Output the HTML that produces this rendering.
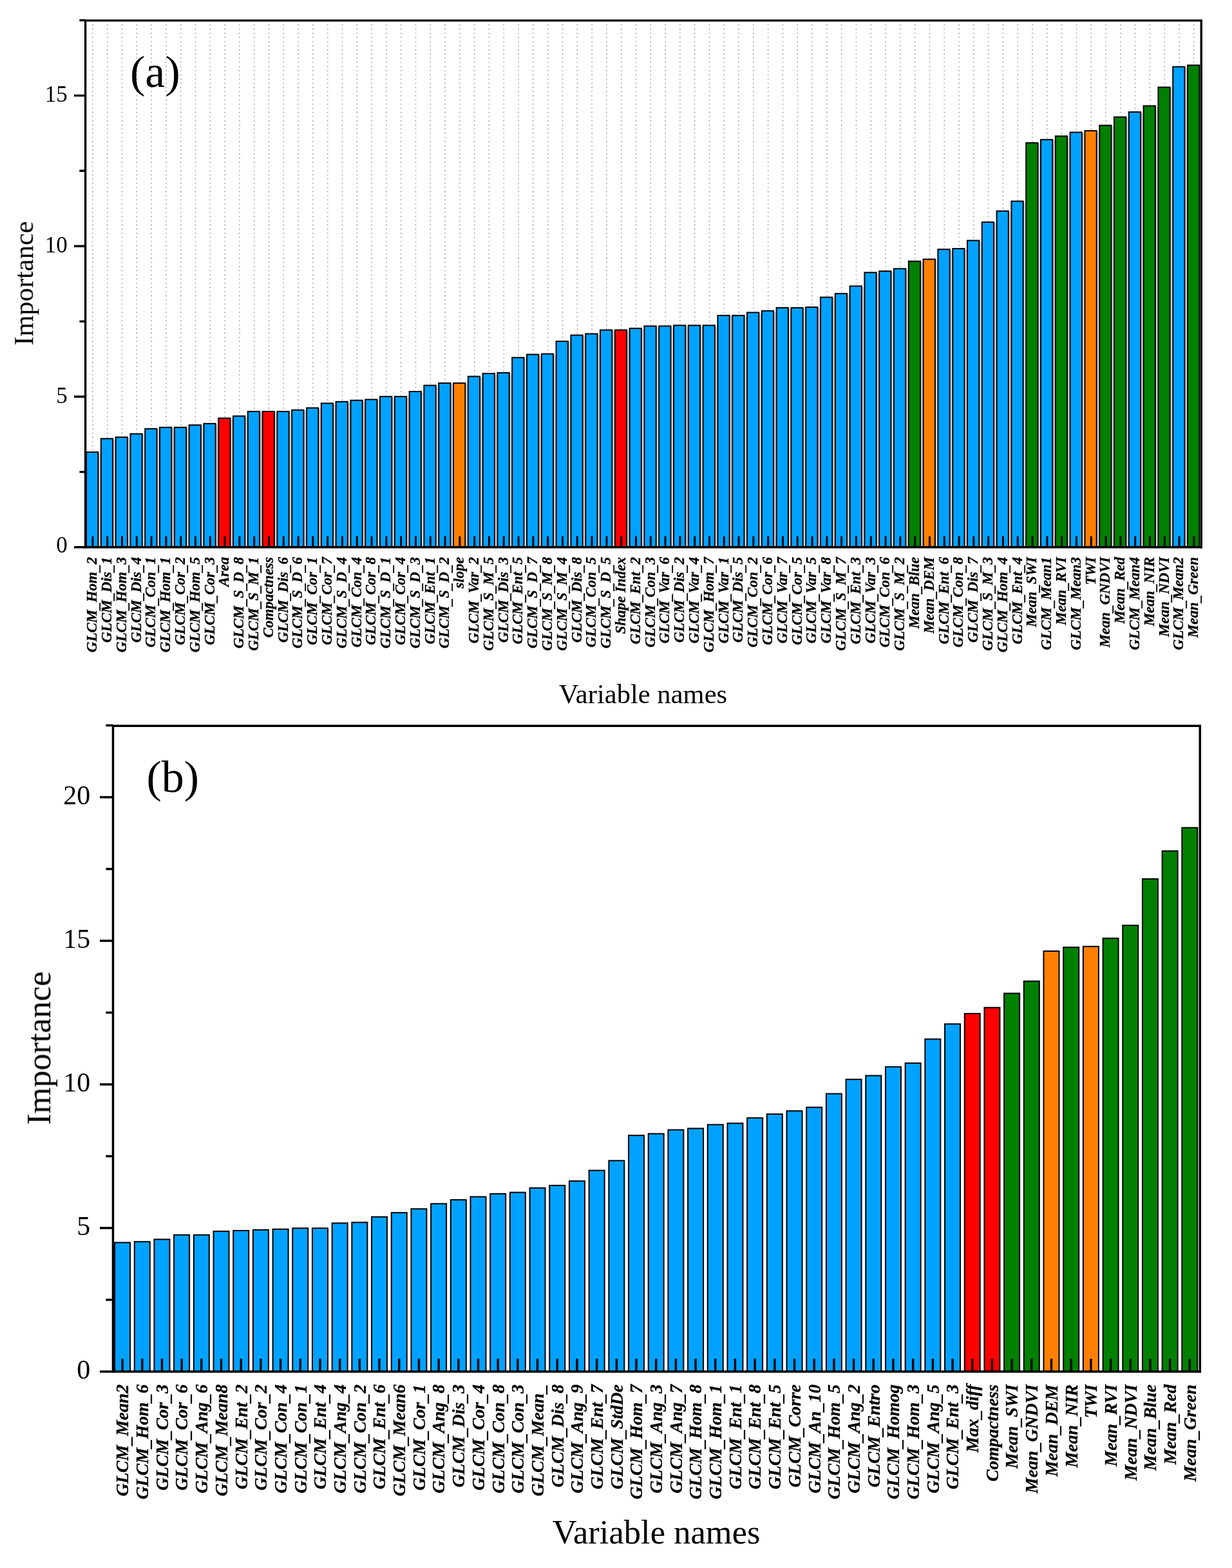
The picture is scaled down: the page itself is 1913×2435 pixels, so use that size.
<!DOCTYPE html><html><head><meta charset="utf-8"><title>Variable importance</title><style>html,body{margin:0;padding:0;background:#fff;}svg{display:block;}text{font-family:"Liberation Serif","Times New Roman",serif;fill:#000;}.lab{font-weight:bold;font-style:italic;stroke:#000;stroke-width:0.3px;}</style></head><body>
<svg width="1913" height="2435" viewBox="0 0 1913 2435">
<rect x="0" y="0" width="1913" height="2435" fill="#fff"/>
<defs><filter id="soft" x="0" y="0" width="1913" height="2435" filterUnits="userSpaceOnUse"><feGaussianBlur stdDeviation="0.5"/></filter></defs><g filter="url(#soft)">
<g><line x1="143.9" y1="37.8" x2="143.9" y2="849.8" stroke="#a4a4a4" stroke-width="1.6" stroke-dasharray="1.8 4.67"/><line x1="166.7" y1="37.8" x2="166.7" y2="849.8" stroke="#a4a4a4" stroke-width="1.6" stroke-dasharray="1.8 4.67"/><line x1="189.5" y1="37.8" x2="189.5" y2="849.8" stroke="#a4a4a4" stroke-width="1.6" stroke-dasharray="1.8 4.67"/><line x1="212.3" y1="37.8" x2="212.3" y2="849.8" stroke="#a4a4a4" stroke-width="1.6" stroke-dasharray="1.8 4.67"/><line x1="235.1" y1="37.8" x2="235.1" y2="849.8" stroke="#a4a4a4" stroke-width="1.6" stroke-dasharray="1.8 4.67"/><line x1="257.9" y1="37.8" x2="257.9" y2="849.8" stroke="#a4a4a4" stroke-width="1.6" stroke-dasharray="1.8 4.67"/><line x1="280.7" y1="37.8" x2="280.7" y2="849.8" stroke="#a4a4a4" stroke-width="1.6" stroke-dasharray="1.8 4.67"/><line x1="303.5" y1="37.8" x2="303.5" y2="849.8" stroke="#a4a4a4" stroke-width="1.6" stroke-dasharray="1.8 4.67"/><line x1="326.3" y1="37.8" x2="326.3" y2="849.8" stroke="#a4a4a4" stroke-width="1.6" stroke-dasharray="1.8 4.67"/><line x1="349.1" y1="37.8" x2="349.1" y2="849.8" stroke="#a4a4a4" stroke-width="1.6" stroke-dasharray="1.8 4.67"/><line x1="371.9" y1="37.8" x2="371.9" y2="849.8" stroke="#a4a4a4" stroke-width="1.6" stroke-dasharray="1.8 4.67"/><line x1="394.7" y1="37.8" x2="394.7" y2="849.8" stroke="#a4a4a4" stroke-width="1.6" stroke-dasharray="1.8 4.67"/><line x1="417.5" y1="37.8" x2="417.5" y2="849.8" stroke="#a4a4a4" stroke-width="1.6" stroke-dasharray="1.8 4.67"/><line x1="440.3" y1="37.8" x2="440.3" y2="849.8" stroke="#a4a4a4" stroke-width="1.6" stroke-dasharray="1.8 4.67"/><line x1="463.1" y1="37.8" x2="463.1" y2="849.8" stroke="#a4a4a4" stroke-width="1.6" stroke-dasharray="1.8 4.67"/><line x1="485.9" y1="37.8" x2="485.9" y2="849.8" stroke="#a4a4a4" stroke-width="1.6" stroke-dasharray="1.8 4.67"/><line x1="508.7" y1="37.8" x2="508.7" y2="849.8" stroke="#a4a4a4" stroke-width="1.6" stroke-dasharray="1.8 4.67"/><line x1="531.5" y1="37.8" x2="531.5" y2="849.8" stroke="#a4a4a4" stroke-width="1.6" stroke-dasharray="1.8 4.67"/><line x1="554.3" y1="37.8" x2="554.3" y2="849.8" stroke="#a4a4a4" stroke-width="1.6" stroke-dasharray="1.8 4.67"/><line x1="577.1" y1="37.8" x2="577.1" y2="849.8" stroke="#a4a4a4" stroke-width="1.6" stroke-dasharray="1.8 4.67"/><line x1="599.9" y1="37.8" x2="599.9" y2="849.8" stroke="#a4a4a4" stroke-width="1.6" stroke-dasharray="1.8 4.67"/><line x1="622.7" y1="37.8" x2="622.7" y2="849.8" stroke="#a4a4a4" stroke-width="1.6" stroke-dasharray="1.8 4.67"/><line x1="645.5" y1="37.8" x2="645.5" y2="849.8" stroke="#a4a4a4" stroke-width="1.6" stroke-dasharray="1.8 4.67"/><line x1="668.3" y1="37.8" x2="668.3" y2="849.8" stroke="#a4a4a4" stroke-width="1.6" stroke-dasharray="1.8 4.67"/><line x1="691.1" y1="37.8" x2="691.1" y2="849.8" stroke="#a4a4a4" stroke-width="1.6" stroke-dasharray="1.8 4.67"/><line x1="713.9" y1="37.8" x2="713.9" y2="849.8" stroke="#a4a4a4" stroke-width="1.6" stroke-dasharray="1.8 4.67"/><line x1="736.7" y1="37.8" x2="736.7" y2="849.8" stroke="#a4a4a4" stroke-width="1.6" stroke-dasharray="1.8 4.67"/><line x1="759.5" y1="37.8" x2="759.5" y2="849.8" stroke="#a4a4a4" stroke-width="1.6" stroke-dasharray="1.8 4.67"/><line x1="782.3" y1="37.8" x2="782.3" y2="849.8" stroke="#a4a4a4" stroke-width="1.6" stroke-dasharray="1.8 4.67"/><line x1="805.1" y1="37.8" x2="805.1" y2="849.8" stroke="#a4a4a4" stroke-width="1.6" stroke-dasharray="1.8 4.67"/><line x1="827.9" y1="37.8" x2="827.9" y2="849.8" stroke="#a4a4a4" stroke-width="1.6" stroke-dasharray="1.8 4.67"/><line x1="850.7" y1="37.8" x2="850.7" y2="849.8" stroke="#a4a4a4" stroke-width="1.6" stroke-dasharray="1.8 4.67"/><line x1="873.5" y1="37.8" x2="873.5" y2="849.8" stroke="#a4a4a4" stroke-width="1.6" stroke-dasharray="1.8 4.67"/><line x1="896.3" y1="37.8" x2="896.3" y2="849.8" stroke="#a4a4a4" stroke-width="1.6" stroke-dasharray="1.8 4.67"/><line x1="919.1" y1="37.8" x2="919.1" y2="849.8" stroke="#a4a4a4" stroke-width="1.6" stroke-dasharray="1.8 4.67"/><line x1="941.9" y1="37.8" x2="941.9" y2="849.8" stroke="#a4a4a4" stroke-width="1.6" stroke-dasharray="1.8 4.67"/><line x1="964.7" y1="37.8" x2="964.7" y2="849.8" stroke="#a4a4a4" stroke-width="1.6" stroke-dasharray="1.8 4.67"/><line x1="987.5" y1="37.8" x2="987.5" y2="849.8" stroke="#a4a4a4" stroke-width="1.6" stroke-dasharray="1.8 4.67"/><line x1="1010.3" y1="37.8" x2="1010.3" y2="849.8" stroke="#a4a4a4" stroke-width="1.6" stroke-dasharray="1.8 4.67"/><line x1="1033.1" y1="37.8" x2="1033.1" y2="849.8" stroke="#a4a4a4" stroke-width="1.6" stroke-dasharray="1.8 4.67"/><line x1="1055.9" y1="37.8" x2="1055.9" y2="849.8" stroke="#a4a4a4" stroke-width="1.6" stroke-dasharray="1.8 4.67"/><line x1="1078.7" y1="37.8" x2="1078.7" y2="849.8" stroke="#a4a4a4" stroke-width="1.6" stroke-dasharray="1.8 4.67"/><line x1="1101.5" y1="37.8" x2="1101.5" y2="849.8" stroke="#a4a4a4" stroke-width="1.6" stroke-dasharray="1.8 4.67"/><line x1="1124.3" y1="37.8" x2="1124.3" y2="849.8" stroke="#a4a4a4" stroke-width="1.6" stroke-dasharray="1.8 4.67"/><line x1="1147.1" y1="37.8" x2="1147.1" y2="849.8" stroke="#a4a4a4" stroke-width="1.6" stroke-dasharray="1.8 4.67"/><line x1="1169.9" y1="37.8" x2="1169.9" y2="849.8" stroke="#a4a4a4" stroke-width="1.6" stroke-dasharray="1.8 4.67"/><line x1="1192.7" y1="37.8" x2="1192.7" y2="849.8" stroke="#a4a4a4" stroke-width="1.6" stroke-dasharray="1.8 4.67"/><line x1="1215.5" y1="37.8" x2="1215.5" y2="849.8" stroke="#a4a4a4" stroke-width="1.6" stroke-dasharray="1.8 4.67"/><line x1="1238.3" y1="37.8" x2="1238.3" y2="849.8" stroke="#a4a4a4" stroke-width="1.6" stroke-dasharray="1.8 4.67"/><line x1="1261.1" y1="37.8" x2="1261.1" y2="849.8" stroke="#a4a4a4" stroke-width="1.6" stroke-dasharray="1.8 4.67"/><line x1="1283.9" y1="37.8" x2="1283.9" y2="849.8" stroke="#a4a4a4" stroke-width="1.6" stroke-dasharray="1.8 4.67"/><line x1="1306.7" y1="37.8" x2="1306.7" y2="849.8" stroke="#a4a4a4" stroke-width="1.6" stroke-dasharray="1.8 4.67"/><line x1="1329.5" y1="37.8" x2="1329.5" y2="849.8" stroke="#a4a4a4" stroke-width="1.6" stroke-dasharray="1.8 4.67"/><line x1="1352.3" y1="37.8" x2="1352.3" y2="849.8" stroke="#a4a4a4" stroke-width="1.6" stroke-dasharray="1.8 4.67"/><line x1="1375.1" y1="37.8" x2="1375.1" y2="849.8" stroke="#a4a4a4" stroke-width="1.6" stroke-dasharray="1.8 4.67"/><line x1="1397.9" y1="37.8" x2="1397.9" y2="849.8" stroke="#a4a4a4" stroke-width="1.6" stroke-dasharray="1.8 4.67"/><line x1="1420.7" y1="37.8" x2="1420.7" y2="849.8" stroke="#a4a4a4" stroke-width="1.6" stroke-dasharray="1.8 4.67"/><line x1="1443.5" y1="37.8" x2="1443.5" y2="849.8" stroke="#a4a4a4" stroke-width="1.6" stroke-dasharray="1.8 4.67"/><line x1="1466.3" y1="37.8" x2="1466.3" y2="849.8" stroke="#a4a4a4" stroke-width="1.6" stroke-dasharray="1.8 4.67"/><line x1="1489.1" y1="37.8" x2="1489.1" y2="849.8" stroke="#a4a4a4" stroke-width="1.6" stroke-dasharray="1.8 4.67"/><line x1="1511.9" y1="37.8" x2="1511.9" y2="849.8" stroke="#a4a4a4" stroke-width="1.6" stroke-dasharray="1.8 4.67"/><line x1="1534.7" y1="37.8" x2="1534.7" y2="849.8" stroke="#a4a4a4" stroke-width="1.6" stroke-dasharray="1.8 4.67"/><line x1="1557.5" y1="37.8" x2="1557.5" y2="849.8" stroke="#a4a4a4" stroke-width="1.6" stroke-dasharray="1.8 4.67"/><line x1="1580.3" y1="37.8" x2="1580.3" y2="849.8" stroke="#a4a4a4" stroke-width="1.6" stroke-dasharray="1.8 4.67"/><line x1="1603.1" y1="37.8" x2="1603.1" y2="849.8" stroke="#a4a4a4" stroke-width="1.6" stroke-dasharray="1.8 4.67"/><line x1="1625.9" y1="37.8" x2="1625.9" y2="849.8" stroke="#a4a4a4" stroke-width="1.6" stroke-dasharray="1.8 4.67"/><line x1="1648.7" y1="37.8" x2="1648.7" y2="849.8" stroke="#a4a4a4" stroke-width="1.6" stroke-dasharray="1.8 4.67"/><line x1="1671.5" y1="37.8" x2="1671.5" y2="849.8" stroke="#a4a4a4" stroke-width="1.6" stroke-dasharray="1.8 4.67"/><line x1="1694.3" y1="37.8" x2="1694.3" y2="849.8" stroke="#a4a4a4" stroke-width="1.6" stroke-dasharray="1.8 4.67"/><line x1="1717.1" y1="37.8" x2="1717.1" y2="849.8" stroke="#a4a4a4" stroke-width="1.6" stroke-dasharray="1.8 4.67"/><line x1="1739.9" y1="37.8" x2="1739.9" y2="849.8" stroke="#a4a4a4" stroke-width="1.6" stroke-dasharray="1.8 4.67"/><line x1="1762.7" y1="37.8" x2="1762.7" y2="849.8" stroke="#a4a4a4" stroke-width="1.6" stroke-dasharray="1.8 4.67"/><line x1="1785.5" y1="37.8" x2="1785.5" y2="849.8" stroke="#a4a4a4" stroke-width="1.6" stroke-dasharray="1.8 4.67"/><line x1="1808.3" y1="37.8" x2="1808.3" y2="849.8" stroke="#a4a4a4" stroke-width="1.6" stroke-dasharray="1.8 4.67"/><line x1="1831.1" y1="37.8" x2="1831.1" y2="849.8" stroke="#a4a4a4" stroke-width="1.6" stroke-dasharray="1.8 4.67"/><line x1="1853.9" y1="37.8" x2="1853.9" y2="849.8" stroke="#a4a4a4" stroke-width="1.6" stroke-dasharray="1.8 4.67"/></g>
<g><rect x="153.05" y="703.6" width="3.1" height="146.2" fill="#d6d6d6"/><rect x="175.85" y="682.7" width="3.1" height="167.1" fill="#d6d6d6"/><rect x="198.65" y="680.4" width="3.1" height="169.4" fill="#d6d6d6"/><rect x="221.45" y="675.3" width="3.1" height="174.5" fill="#d6d6d6"/><rect x="244.25" y="667.3" width="3.1" height="182.5" fill="#d6d6d6"/><rect x="267.05" y="665.2" width="3.1" height="184.6" fill="#d6d6d6"/><rect x="289.85" y="665.2" width="3.1" height="184.6" fill="#d6d6d6"/><rect x="312.65" y="661.6" width="3.1" height="188.2" fill="#d6d6d6"/><rect x="335.45" y="659.3" width="3.1" height="190.5" fill="#d6d6d6"/><rect x="358.25" y="650.9" width="3.1" height="198.9" fill="#d6d6d6"/><rect x="381.05" y="647.7" width="3.1" height="202.1" fill="#d6d6d6"/><rect x="403.85" y="640.5" width="3.1" height="209.3" fill="#d6d6d6"/><rect x="426.65" y="640.5" width="3.1" height="209.3" fill="#d6d6d6"/><rect x="449.45" y="640.5" width="3.1" height="209.3" fill="#d6d6d6"/><rect x="472.25" y="638.2" width="3.1" height="211.6" fill="#d6d6d6"/><rect x="495.05" y="635" width="3.1" height="214.8" fill="#d6d6d6"/><rect x="517.85" y="627.8" width="3.1" height="222" fill="#d6d6d6"/><rect x="540.65" y="625.3" width="3.1" height="224.5" fill="#d6d6d6"/><rect x="563.45" y="623.2" width="3.1" height="226.6" fill="#d6d6d6"/><rect x="586.25" y="621.9" width="3.1" height="227.9" fill="#d6d6d6"/><rect x="609.05" y="617.3" width="3.1" height="232.5" fill="#d6d6d6"/><rect x="631.85" y="617.3" width="3.1" height="232.5" fill="#d6d6d6"/><rect x="654.65" y="609.5" width="3.1" height="240.3" fill="#d6d6d6"/><rect x="677.45" y="600" width="3.1" height="249.8" fill="#d6d6d6"/><rect x="700.25" y="596.4" width="3.1" height="253.4" fill="#d6d6d6"/><rect x="723.05" y="596.4" width="3.1" height="253.4" fill="#d6d6d6"/><rect x="745.85" y="586.1" width="3.1" height="263.7" fill="#d6d6d6"/><rect x="768.65" y="581.5" width="3.1" height="268.3" fill="#d6d6d6"/><rect x="791.45" y="580.4" width="3.1" height="269.4" fill="#d6d6d6"/><rect x="814.25" y="556.8" width="3.1" height="293" fill="#d6d6d6"/><rect x="837.05" y="552" width="3.1" height="297.8" fill="#d6d6d6"/><rect x="859.85" y="551.1" width="3.1" height="298.7" fill="#d6d6d6"/><rect x="882.65" y="531.5" width="3.1" height="318.3" fill="#d6d6d6"/><rect x="905.45" y="522" width="3.1" height="327.8" fill="#d6d6d6"/><rect x="928.25" y="519.9" width="3.1" height="329.9" fill="#d6d6d6"/><rect x="951.05" y="514" width="3.1" height="335.8" fill="#d6d6d6"/><rect x="973.85" y="514" width="3.1" height="335.8" fill="#d6d6d6"/><rect x="996.65" y="511.4" width="3.1" height="338.4" fill="#d6d6d6"/><rect x="1019.45" y="507.9" width="3.1" height="341.9" fill="#d6d6d6"/><rect x="1042.25" y="507.9" width="3.1" height="341.9" fill="#d6d6d6"/><rect x="1065.05" y="506.8" width="3.1" height="343" fill="#d6d6d6"/><rect x="1087.85" y="506.8" width="3.1" height="343" fill="#d6d6d6"/><rect x="1110.65" y="506.8" width="3.1" height="343" fill="#d6d6d6"/><rect x="1133.45" y="491.4" width="3.1" height="358.4" fill="#d6d6d6"/><rect x="1156.25" y="491.4" width="3.1" height="358.4" fill="#d6d6d6"/><rect x="1179.05" y="486.8" width="3.1" height="363" fill="#d6d6d6"/><rect x="1201.85" y="484.2" width="3.1" height="365.6" fill="#d6d6d6"/><rect x="1224.65" y="479.5" width="3.1" height="370.3" fill="#d6d6d6"/><rect x="1247.45" y="479.5" width="3.1" height="370.3" fill="#d6d6d6"/><rect x="1270.25" y="478.5" width="3.1" height="371.3" fill="#d6d6d6"/><rect x="1293.05" y="463.1" width="3.1" height="386.7" fill="#d6d6d6"/><rect x="1315.85" y="457.4" width="3.1" height="392.4" fill="#d6d6d6"/><rect x="1338.65" y="445.8" width="3.1" height="404" fill="#d6d6d6"/><rect x="1361.45" y="424.7" width="3.1" height="425.1" fill="#d6d6d6"/><rect x="1384.25" y="422.6" width="3.1" height="427.2" fill="#d6d6d6"/><rect x="1407.05" y="418.8" width="3.1" height="431" fill="#d6d6d6"/><rect x="1429.85" y="407.2" width="3.1" height="442.6" fill="#d6d6d6"/><rect x="1452.65" y="404.1" width="3.1" height="445.7" fill="#d6d6d6"/><rect x="1475.45" y="388.7" width="3.1" height="461.1" fill="#d6d6d6"/><rect x="1498.25" y="387.6" width="3.1" height="462.2" fill="#d6d6d6"/><rect x="1521.05" y="375" width="3.1" height="474.8" fill="#d6d6d6"/><rect x="1543.85" y="346.5" width="3.1" height="503.3" fill="#d6d6d6"/><rect x="1566.65" y="329.2" width="3.1" height="520.6" fill="#d6d6d6"/><rect x="1589.45" y="314" width="3.1" height="535.8" fill="#d6d6d6"/><rect x="1612.25" y="223.3" width="3.1" height="626.5" fill="#d6d6d6"/><rect x="1635.05" y="218.3" width="3.1" height="631.5" fill="#d6d6d6"/><rect x="1657.85" y="212.9" width="3.1" height="636.9" fill="#d6d6d6"/><rect x="1680.65" y="207" width="3.1" height="642.8" fill="#d6d6d6"/><rect x="1703.45" y="204.6" width="3.1" height="645.2" fill="#d6d6d6"/><rect x="1726.25" y="196.2" width="3.1" height="653.6" fill="#d6d6d6"/><rect x="1749.05" y="183.2" width="3.1" height="666.6" fill="#d6d6d6"/><rect x="1771.85" y="175.4" width="3.1" height="674.4" fill="#d6d6d6"/><rect x="1794.65" y="165.9" width="3.1" height="683.9" fill="#d6d6d6"/><rect x="1817.45" y="137" width="3.1" height="712.8" fill="#d6d6d6"/><rect x="1840.25" y="105.2" width="3.1" height="744.6" fill="#d6d6d6"/></g>
<g><rect x="134.05" y="702.1" width="18.3" height="147.7" fill="#00a2ff" stroke="#000" stroke-width="2.0"/><rect x="156.85" y="681.2" width="18.3" height="168.6" fill="#00a2ff" stroke="#000" stroke-width="2.0"/><rect x="179.65" y="678.9" width="18.3" height="170.9" fill="#00a2ff" stroke="#000" stroke-width="2.0"/><rect x="202.45" y="673.8" width="18.3" height="176" fill="#00a2ff" stroke="#000" stroke-width="2.0"/><rect x="225.25" y="665.8" width="18.3" height="184" fill="#00a2ff" stroke="#000" stroke-width="2.0"/><rect x="248.05" y="663.7" width="18.3" height="186.1" fill="#00a2ff" stroke="#000" stroke-width="2.0"/><rect x="270.85" y="663.7" width="18.3" height="186.1" fill="#00a2ff" stroke="#000" stroke-width="2.0"/><rect x="293.65" y="660.1" width="18.3" height="189.7" fill="#00a2ff" stroke="#000" stroke-width="2.0"/><rect x="316.45" y="657.8" width="18.3" height="192" fill="#00a2ff" stroke="#000" stroke-width="2.0"/><rect x="339.25" y="649.4" width="18.3" height="200.4" fill="#ff0000" stroke="#000" stroke-width="2.0"/><rect x="362.05" y="646.2" width="18.3" height="203.6" fill="#00a2ff" stroke="#000" stroke-width="2.0"/><rect x="384.85" y="639" width="18.3" height="210.8" fill="#00a2ff" stroke="#000" stroke-width="2.0"/><rect x="407.65" y="639" width="18.3" height="210.8" fill="#ff0000" stroke="#000" stroke-width="2.0"/><rect x="430.45" y="639" width="18.3" height="210.8" fill="#00a2ff" stroke="#000" stroke-width="2.0"/><rect x="453.25" y="636.7" width="18.3" height="213.1" fill="#00a2ff" stroke="#000" stroke-width="2.0"/><rect x="476.05" y="633.5" width="18.3" height="216.3" fill="#00a2ff" stroke="#000" stroke-width="2.0"/><rect x="498.85" y="626.3" width="18.3" height="223.5" fill="#00a2ff" stroke="#000" stroke-width="2.0"/><rect x="521.65" y="623.8" width="18.3" height="226" fill="#00a2ff" stroke="#000" stroke-width="2.0"/><rect x="544.45" y="621.7" width="18.3" height="228.1" fill="#00a2ff" stroke="#000" stroke-width="2.0"/><rect x="567.25" y="620.4" width="18.3" height="229.4" fill="#00a2ff" stroke="#000" stroke-width="2.0"/><rect x="590.05" y="615.8" width="18.3" height="234" fill="#00a2ff" stroke="#000" stroke-width="2.0"/><rect x="612.85" y="615.8" width="18.3" height="234" fill="#00a2ff" stroke="#000" stroke-width="2.0"/><rect x="635.65" y="608" width="18.3" height="241.8" fill="#00a2ff" stroke="#000" stroke-width="2.0"/><rect x="658.45" y="598.5" width="18.3" height="251.3" fill="#00a2ff" stroke="#000" stroke-width="2.0"/><rect x="681.25" y="594.9" width="18.3" height="254.9" fill="#00a2ff" stroke="#000" stroke-width="2.0"/><rect x="704.05" y="594.9" width="18.3" height="254.9" fill="#ff8000" stroke="#000" stroke-width="2.0"/><rect x="726.85" y="584.6" width="18.3" height="265.2" fill="#00a2ff" stroke="#000" stroke-width="2.0"/><rect x="749.65" y="580" width="18.3" height="269.8" fill="#00a2ff" stroke="#000" stroke-width="2.0"/><rect x="772.45" y="578.9" width="18.3" height="270.9" fill="#00a2ff" stroke="#000" stroke-width="2.0"/><rect x="795.25" y="555.3" width="18.3" height="294.5" fill="#00a2ff" stroke="#000" stroke-width="2.0"/><rect x="818.05" y="550.5" width="18.3" height="299.3" fill="#00a2ff" stroke="#000" stroke-width="2.0"/><rect x="840.85" y="549.6" width="18.3" height="300.2" fill="#00a2ff" stroke="#000" stroke-width="2.0"/><rect x="863.65" y="530" width="18.3" height="319.8" fill="#00a2ff" stroke="#000" stroke-width="2.0"/><rect x="886.45" y="520.5" width="18.3" height="329.3" fill="#00a2ff" stroke="#000" stroke-width="2.0"/><rect x="909.25" y="518.4" width="18.3" height="331.4" fill="#00a2ff" stroke="#000" stroke-width="2.0"/><rect x="932.05" y="512.5" width="18.3" height="337.3" fill="#00a2ff" stroke="#000" stroke-width="2.0"/><rect x="954.85" y="512.5" width="18.3" height="337.3" fill="#ff0000" stroke="#000" stroke-width="2.0"/><rect x="977.65" y="509.9" width="18.3" height="339.9" fill="#00a2ff" stroke="#000" stroke-width="2.0"/><rect x="1000.45" y="506.4" width="18.3" height="343.4" fill="#00a2ff" stroke="#000" stroke-width="2.0"/><rect x="1023.25" y="506.4" width="18.3" height="343.4" fill="#00a2ff" stroke="#000" stroke-width="2.0"/><rect x="1046.05" y="505.3" width="18.3" height="344.5" fill="#00a2ff" stroke="#000" stroke-width="2.0"/><rect x="1068.85" y="505.3" width="18.3" height="344.5" fill="#00a2ff" stroke="#000" stroke-width="2.0"/><rect x="1091.65" y="505.3" width="18.3" height="344.5" fill="#00a2ff" stroke="#000" stroke-width="2.0"/><rect x="1114.45" y="489.9" width="18.3" height="359.9" fill="#00a2ff" stroke="#000" stroke-width="2.0"/><rect x="1137.25" y="489.9" width="18.3" height="359.9" fill="#00a2ff" stroke="#000" stroke-width="2.0"/><rect x="1160.05" y="485.3" width="18.3" height="364.5" fill="#00a2ff" stroke="#000" stroke-width="2.0"/><rect x="1182.85" y="482.7" width="18.3" height="367.1" fill="#00a2ff" stroke="#000" stroke-width="2.0"/><rect x="1205.65" y="478" width="18.3" height="371.8" fill="#00a2ff" stroke="#000" stroke-width="2.0"/><rect x="1228.45" y="478" width="18.3" height="371.8" fill="#00a2ff" stroke="#000" stroke-width="2.0"/><rect x="1251.25" y="477" width="18.3" height="372.8" fill="#00a2ff" stroke="#000" stroke-width="2.0"/><rect x="1274.05" y="461.6" width="18.3" height="388.2" fill="#00a2ff" stroke="#000" stroke-width="2.0"/><rect x="1296.85" y="455.9" width="18.3" height="393.9" fill="#00a2ff" stroke="#000" stroke-width="2.0"/><rect x="1319.65" y="444.3" width="18.3" height="405.5" fill="#00a2ff" stroke="#000" stroke-width="2.0"/><rect x="1342.45" y="423.2" width="18.3" height="426.6" fill="#00a2ff" stroke="#000" stroke-width="2.0"/><rect x="1365.25" y="421.1" width="18.3" height="428.7" fill="#00a2ff" stroke="#000" stroke-width="2.0"/><rect x="1388.05" y="417.3" width="18.3" height="432.5" fill="#00a2ff" stroke="#000" stroke-width="2.0"/><rect x="1410.85" y="405.7" width="18.3" height="444.1" fill="#008000" stroke="#000" stroke-width="2.0"/><rect x="1433.65" y="402.6" width="18.3" height="447.2" fill="#ff8000" stroke="#000" stroke-width="2.0"/><rect x="1456.45" y="387.2" width="18.3" height="462.6" fill="#00a2ff" stroke="#000" stroke-width="2.0"/><rect x="1479.25" y="386.1" width="18.3" height="463.7" fill="#00a2ff" stroke="#000" stroke-width="2.0"/><rect x="1502.05" y="373.5" width="18.3" height="476.3" fill="#00a2ff" stroke="#000" stroke-width="2.0"/><rect x="1524.85" y="345" width="18.3" height="504.8" fill="#00a2ff" stroke="#000" stroke-width="2.0"/><rect x="1547.65" y="327.7" width="18.3" height="522.1" fill="#00a2ff" stroke="#000" stroke-width="2.0"/><rect x="1570.45" y="312.5" width="18.3" height="537.3" fill="#00a2ff" stroke="#000" stroke-width="2.0"/><rect x="1593.25" y="221.8" width="18.3" height="628" fill="#008000" stroke="#000" stroke-width="2.0"/><rect x="1616.05" y="216.8" width="18.3" height="633" fill="#00a2ff" stroke="#000" stroke-width="2.0"/><rect x="1638.85" y="211.4" width="18.3" height="638.4" fill="#008000" stroke="#000" stroke-width="2.0"/><rect x="1661.65" y="205.5" width="18.3" height="644.3" fill="#00a2ff" stroke="#000" stroke-width="2.0"/><rect x="1684.45" y="203.1" width="18.3" height="646.7" fill="#ff8000" stroke="#000" stroke-width="2.0"/><rect x="1707.25" y="194.7" width="18.3" height="655.1" fill="#008000" stroke="#000" stroke-width="2.0"/><rect x="1730.05" y="181.7" width="18.3" height="668.1" fill="#008000" stroke="#000" stroke-width="2.0"/><rect x="1752.85" y="173.9" width="18.3" height="675.9" fill="#00a2ff" stroke="#000" stroke-width="2.0"/><rect x="1775.65" y="164.4" width="18.3" height="685.4" fill="#008000" stroke="#000" stroke-width="2.0"/><rect x="1798.45" y="135.5" width="18.3" height="714.3" fill="#008000" stroke="#000" stroke-width="2.0"/><rect x="1821.25" y="103.7" width="18.3" height="746.1" fill="#00a2ff" stroke="#000" stroke-width="2.0"/><rect x="1844.05" y="101.3" width="18.3" height="748.5" fill="#008000" stroke="#000" stroke-width="2.0"/></g>
<path d="M143.9 849.8V832.8M166.7 849.8V832.8M189.5 849.8V832.8M212.3 849.8V832.8M235.1 849.8V832.8M257.9 849.8V832.8M280.7 849.8V832.8M303.5 849.8V832.8M326.3 849.8V832.8M349.1 849.8V832.8M371.9 849.8V832.8M394.7 849.8V832.8M417.5 849.8V832.8M440.3 849.8V832.8M463.1 849.8V832.8M485.9 849.8V832.8M508.7 849.8V832.8M531.5 849.8V832.8M554.3 849.8V832.8M577.1 849.8V832.8M599.9 849.8V832.8M622.7 849.8V832.8M645.5 849.8V832.8M668.3 849.8V832.8M691.1 849.8V832.8M713.9 849.8V832.8M736.7 849.8V832.8M759.5 849.8V832.8M782.3 849.8V832.8M805.1 849.8V832.8M827.9 849.8V832.8M850.7 849.8V832.8M873.5 849.8V832.8M896.3 849.8V832.8M919.1 849.8V832.8M941.9 849.8V832.8M964.7 849.8V832.8M987.5 849.8V832.8M1010.3 849.8V832.8M1033.1 849.8V832.8M1055.9 849.8V832.8M1078.7 849.8V832.8M1101.5 849.8V832.8M1124.3 849.8V832.8M1147.1 849.8V832.8M1169.9 849.8V832.8M1192.7 849.8V832.8M1215.5 849.8V832.8M1238.3 849.8V832.8M1261.1 849.8V832.8M1283.9 849.8V832.8M1306.7 849.8V832.8M1329.5 849.8V832.8M1352.3 849.8V832.8M1375.1 849.8V832.8M1397.9 849.8V832.8M1420.7 849.8V832.8M1443.5 849.8V832.8M1466.3 849.8V832.8M1489.1 849.8V832.8M1511.9 849.8V832.8M1534.7 849.8V832.8M1557.5 849.8V832.8M1580.3 849.8V832.8M1603.1 849.8V832.8M1625.9 849.8V832.8M1648.7 849.8V832.8M1671.5 849.8V832.8M1694.3 849.8V832.8M1717.1 849.8V832.8M1739.9 849.8V832.8M1762.7 849.8V832.8M1785.5 849.8V832.8M1808.3 849.8V832.8M1831.1 849.8V832.8M1853.9 849.8V832.8" stroke="#000" stroke-width="3" fill="none"/>
<path d="M132.6 849.8V31.9H1865.3V849.8" stroke="#000" stroke-width="3.4" fill="none" stroke-linecap="square"/>
<path d="M115 849.8H1867" stroke="#000" stroke-width="3.4" fill="none"/>
<path d="M115 616H132.6M115 382.2H132.6M115 148.4H132.6M123.4 732.9H132.6M123.4 499.1H132.6M123.4 265.3H132.6M123.4 31.5H132.6" stroke="#000" stroke-width="3.4" fill="none"/>
<text x="104.8" y="858.4" font-size="35" text-anchor="end">0</text>
<text x="104.8" y="625.6" font-size="35" text-anchor="end">5</text>
<text x="104.8" y="391.8" font-size="35" text-anchor="end">10</text>
<text x="104.8" y="158" font-size="35" text-anchor="end">15</text>
<text x="202" y="134.5" font-size="70">(a)</text>
<text transform="translate(51.3 440.0) rotate(-90)" font-size="42.4" text-anchor="middle">Importance</text>
<text x="998.5" y="1091.5" font-size="42.6" text-anchor="middle">Variable names</text>
<g><text class="lab" transform="translate(150.1 865) rotate(-90)" font-size="23.0" text-anchor="end">GLCM<tspan dy="2.4">_</tspan><tspan dy="-2.4">Hom</tspan><tspan dy="2.4">_</tspan><tspan dy="-2.4">2</tspan></text><text class="lab" transform="translate(172.9 865) rotate(-90)" font-size="23.0" text-anchor="end">GLCM<tspan dy="2.4">_</tspan><tspan dy="-2.4">Dis</tspan><tspan dy="2.4">_</tspan><tspan dy="-2.4">1</tspan></text><text class="lab" transform="translate(195.7 865) rotate(-90)" font-size="23.0" text-anchor="end">GLCM<tspan dy="2.4">_</tspan><tspan dy="-2.4">Hom</tspan><tspan dy="2.4">_</tspan><tspan dy="-2.4">3</tspan></text><text class="lab" transform="translate(218.5 865) rotate(-90)" font-size="23.0" text-anchor="end">GLCM<tspan dy="2.4">_</tspan><tspan dy="-2.4">Dis</tspan><tspan dy="2.4">_</tspan><tspan dy="-2.4">4</tspan></text><text class="lab" transform="translate(241.3 865) rotate(-90)" font-size="23.0" text-anchor="end">GLCM<tspan dy="2.4">_</tspan><tspan dy="-2.4">Con</tspan><tspan dy="2.4">_</tspan><tspan dy="-2.4">1</tspan></text><text class="lab" transform="translate(264.1 865) rotate(-90)" font-size="23.0" text-anchor="end">GLCM<tspan dy="2.4">_</tspan><tspan dy="-2.4">Hom</tspan><tspan dy="2.4">_</tspan><tspan dy="-2.4">1</tspan></text><text class="lab" transform="translate(286.9 865) rotate(-90)" font-size="23.0" text-anchor="end">GLCM<tspan dy="2.4">_</tspan><tspan dy="-2.4">Cor</tspan><tspan dy="2.4">_</tspan><tspan dy="-2.4">2</tspan></text><text class="lab" transform="translate(309.7 865) rotate(-90)" font-size="23.0" text-anchor="end">GLCM<tspan dy="2.4">_</tspan><tspan dy="-2.4">Hom</tspan><tspan dy="2.4">_</tspan><tspan dy="-2.4">5</tspan></text><text class="lab" transform="translate(332.5 865) rotate(-90)" font-size="23.0" text-anchor="end">GLCM<tspan dy="2.4">_</tspan><tspan dy="-2.4">Cor</tspan><tspan dy="2.4">_</tspan><tspan dy="-2.4">3</tspan></text><text class="lab" transform="translate(355.3 865) rotate(-90)" font-size="23.0" text-anchor="end">Area</text><text class="lab" transform="translate(378.1 865) rotate(-90)" font-size="23.0" text-anchor="end">GLCM<tspan dy="2.4">_</tspan><tspan dy="-2.4">S</tspan><tspan dy="2.4">_</tspan><tspan dy="-2.4">D</tspan><tspan dy="2.4">_</tspan><tspan dy="-2.4">8</tspan></text><text class="lab" transform="translate(400.9 865) rotate(-90)" font-size="23.0" text-anchor="end">GLCM<tspan dy="2.4">_</tspan><tspan dy="-2.4">S</tspan><tspan dy="2.4">_</tspan><tspan dy="-2.4">M</tspan><tspan dy="2.4">_</tspan><tspan dy="-2.4">1</tspan></text><text class="lab" transform="translate(423.7 865) rotate(-90)" font-size="23.0" text-anchor="end">Compactness</text><text class="lab" transform="translate(446.5 865) rotate(-90)" font-size="23.0" text-anchor="end">GLCM<tspan dy="2.4">_</tspan><tspan dy="-2.4">Dis</tspan><tspan dy="2.4">_</tspan><tspan dy="-2.4">6</tspan></text><text class="lab" transform="translate(469.3 865) rotate(-90)" font-size="23.0" text-anchor="end">GLCM<tspan dy="2.4">_</tspan><tspan dy="-2.4">S</tspan><tspan dy="2.4">_</tspan><tspan dy="-2.4">D</tspan><tspan dy="2.4">_</tspan><tspan dy="-2.4">6</tspan></text><text class="lab" transform="translate(492.1 865) rotate(-90)" font-size="23.0" text-anchor="end">GLCM<tspan dy="2.4">_</tspan><tspan dy="-2.4">Cor</tspan><tspan dy="2.4">_</tspan><tspan dy="-2.4">1</tspan></text><text class="lab" transform="translate(514.9 865) rotate(-90)" font-size="23.0" text-anchor="end">GLCM<tspan dy="2.4">_</tspan><tspan dy="-2.4">Cor</tspan><tspan dy="2.4">_</tspan><tspan dy="-2.4">7</tspan></text><text class="lab" transform="translate(537.7 865) rotate(-90)" font-size="23.0" text-anchor="end">GLCM<tspan dy="2.4">_</tspan><tspan dy="-2.4">S</tspan><tspan dy="2.4">_</tspan><tspan dy="-2.4">D</tspan><tspan dy="2.4">_</tspan><tspan dy="-2.4">4</tspan></text><text class="lab" transform="translate(560.5 865) rotate(-90)" font-size="23.0" text-anchor="end">GLCM<tspan dy="2.4">_</tspan><tspan dy="-2.4">Con</tspan><tspan dy="2.4">_</tspan><tspan dy="-2.4">4</tspan></text><text class="lab" transform="translate(583.3 865) rotate(-90)" font-size="23.0" text-anchor="end">GLCM<tspan dy="2.4">_</tspan><tspan dy="-2.4">Cor</tspan><tspan dy="2.4">_</tspan><tspan dy="-2.4">8</tspan></text><text class="lab" transform="translate(606.1 865) rotate(-90)" font-size="23.0" text-anchor="end">GLCM<tspan dy="2.4">_</tspan><tspan dy="-2.4">S</tspan><tspan dy="2.4">_</tspan><tspan dy="-2.4">D</tspan><tspan dy="2.4">_</tspan><tspan dy="-2.4">1</tspan></text><text class="lab" transform="translate(628.9 865) rotate(-90)" font-size="23.0" text-anchor="end">GLCM<tspan dy="2.4">_</tspan><tspan dy="-2.4">Cor</tspan><tspan dy="2.4">_</tspan><tspan dy="-2.4">4</tspan></text><text class="lab" transform="translate(651.7 865) rotate(-90)" font-size="23.0" text-anchor="end">GLCM<tspan dy="2.4">_</tspan><tspan dy="-2.4">S</tspan><tspan dy="2.4">_</tspan><tspan dy="-2.4">D</tspan><tspan dy="2.4">_</tspan><tspan dy="-2.4">3</tspan></text><text class="lab" transform="translate(674.5 865) rotate(-90)" font-size="23.0" text-anchor="end">GLCM<tspan dy="2.4">_</tspan><tspan dy="-2.4">Ent</tspan><tspan dy="2.4">_</tspan><tspan dy="-2.4">1</tspan></text><text class="lab" transform="translate(697.3 865) rotate(-90)" font-size="23.0" text-anchor="end">GLCM<tspan dy="2.4">_</tspan><tspan dy="-2.4">S</tspan><tspan dy="2.4">_</tspan><tspan dy="-2.4">D</tspan><tspan dy="2.4">_</tspan><tspan dy="-2.4">2</tspan></text><text class="lab" transform="translate(720.1 865) rotate(-90)" font-size="23.0" text-anchor="end">slope</text><text class="lab" transform="translate(742.9 865) rotate(-90)" font-size="23.0" text-anchor="end">GLCM<tspan dy="2.4">_</tspan><tspan dy="-2.4">Var</tspan><tspan dy="2.4">_</tspan><tspan dy="-2.4">2</tspan></text><text class="lab" transform="translate(765.7 865) rotate(-90)" font-size="23.0" text-anchor="end">GLCM<tspan dy="2.4">_</tspan><tspan dy="-2.4">S</tspan><tspan dy="2.4">_</tspan><tspan dy="-2.4">M</tspan><tspan dy="2.4">_</tspan><tspan dy="-2.4">5</tspan></text><text class="lab" transform="translate(788.5 865) rotate(-90)" font-size="23.0" text-anchor="end">GLCM<tspan dy="2.4">_</tspan><tspan dy="-2.4">Dis</tspan><tspan dy="2.4">_</tspan><tspan dy="-2.4">3</tspan></text><text class="lab" transform="translate(811.3 865) rotate(-90)" font-size="23.0" text-anchor="end">GLCM<tspan dy="2.4">_</tspan><tspan dy="-2.4">Ent</tspan><tspan dy="2.4">_</tspan><tspan dy="-2.4">5</tspan></text><text class="lab" transform="translate(834.1 865) rotate(-90)" font-size="23.0" text-anchor="end">GLCM<tspan dy="2.4">_</tspan><tspan dy="-2.4">S</tspan><tspan dy="2.4">_</tspan><tspan dy="-2.4">D</tspan><tspan dy="2.4">_</tspan><tspan dy="-2.4">7</tspan></text><text class="lab" transform="translate(856.9 865) rotate(-90)" font-size="23.0" text-anchor="end">GLCM<tspan dy="2.4">_</tspan><tspan dy="-2.4">S</tspan><tspan dy="2.4">_</tspan><tspan dy="-2.4">M</tspan><tspan dy="2.4">_</tspan><tspan dy="-2.4">8</tspan></text><text class="lab" transform="translate(879.7 865) rotate(-90)" font-size="23.0" text-anchor="end">GLCM<tspan dy="2.4">_</tspan><tspan dy="-2.4">S</tspan><tspan dy="2.4">_</tspan><tspan dy="-2.4">M</tspan><tspan dy="2.4">_</tspan><tspan dy="-2.4">4</tspan></text><text class="lab" transform="translate(902.5 865) rotate(-90)" font-size="23.0" text-anchor="end">GLCM<tspan dy="2.4">_</tspan><tspan dy="-2.4">Dis</tspan><tspan dy="2.4">_</tspan><tspan dy="-2.4">8</tspan></text><text class="lab" transform="translate(925.3 865) rotate(-90)" font-size="23.0" text-anchor="end">GLCM<tspan dy="2.4">_</tspan><tspan dy="-2.4">Con</tspan><tspan dy="2.4">_</tspan><tspan dy="-2.4">5</tspan></text><text class="lab" transform="translate(948.1 865) rotate(-90)" font-size="23.0" text-anchor="end">GLCM<tspan dy="2.4">_</tspan><tspan dy="-2.4">S</tspan><tspan dy="2.4">_</tspan><tspan dy="-2.4">D</tspan><tspan dy="2.4">_</tspan><tspan dy="-2.4">5</tspan></text><text class="lab" transform="translate(970.9 865) rotate(-90)" font-size="23.0" text-anchor="end">Shape Index</text><text class="lab" transform="translate(993.7 865) rotate(-90)" font-size="23.0" text-anchor="end">GLCM<tspan dy="2.4">_</tspan><tspan dy="-2.4">Ent</tspan><tspan dy="2.4">_</tspan><tspan dy="-2.4">2</tspan></text><text class="lab" transform="translate(1016.5 865) rotate(-90)" font-size="23.0" text-anchor="end">GLCM<tspan dy="2.4">_</tspan><tspan dy="-2.4">Con</tspan><tspan dy="2.4">_</tspan><tspan dy="-2.4">3</tspan></text><text class="lab" transform="translate(1039.3 865) rotate(-90)" font-size="23.0" text-anchor="end">GLCM<tspan dy="2.4">_</tspan><tspan dy="-2.4">Var</tspan><tspan dy="2.4">_</tspan><tspan dy="-2.4">6</tspan></text><text class="lab" transform="translate(1062.1 865) rotate(-90)" font-size="23.0" text-anchor="end">GLCM<tspan dy="2.4">_</tspan><tspan dy="-2.4">Dis</tspan><tspan dy="2.4">_</tspan><tspan dy="-2.4">2</tspan></text><text class="lab" transform="translate(1084.9 865) rotate(-90)" font-size="23.0" text-anchor="end">GLCM<tspan dy="2.4">_</tspan><tspan dy="-2.4">Var</tspan><tspan dy="2.4">_</tspan><tspan dy="-2.4">4</tspan></text><text class="lab" transform="translate(1107.7 865) rotate(-90)" font-size="23.0" text-anchor="end">GLCM<tspan dy="2.4">_</tspan><tspan dy="-2.4">Hom</tspan><tspan dy="2.4">_</tspan><tspan dy="-2.4">7</tspan></text><text class="lab" transform="translate(1130.5 865) rotate(-90)" font-size="23.0" text-anchor="end">GLCM<tspan dy="2.4">_</tspan><tspan dy="-2.4">Var</tspan><tspan dy="2.4">_</tspan><tspan dy="-2.4">1</tspan></text><text class="lab" transform="translate(1153.3 865) rotate(-90)" font-size="23.0" text-anchor="end">GLCM<tspan dy="2.4">_</tspan><tspan dy="-2.4">Dis</tspan><tspan dy="2.4">_</tspan><tspan dy="-2.4">5</tspan></text><text class="lab" transform="translate(1176.1 865) rotate(-90)" font-size="23.0" text-anchor="end">GLCM<tspan dy="2.4">_</tspan><tspan dy="-2.4">Con</tspan><tspan dy="2.4">_</tspan><tspan dy="-2.4">2</tspan></text><text class="lab" transform="translate(1198.9 865) rotate(-90)" font-size="23.0" text-anchor="end">GLCM<tspan dy="2.4">_</tspan><tspan dy="-2.4">Cor</tspan><tspan dy="2.4">_</tspan><tspan dy="-2.4">6</tspan></text><text class="lab" transform="translate(1221.7 865) rotate(-90)" font-size="23.0" text-anchor="end">GLCM<tspan dy="2.4">_</tspan><tspan dy="-2.4">Var</tspan><tspan dy="2.4">_</tspan><tspan dy="-2.4">7</tspan></text><text class="lab" transform="translate(1244.5 865) rotate(-90)" font-size="23.0" text-anchor="end">GLCM<tspan dy="2.4">_</tspan><tspan dy="-2.4">Cor</tspan><tspan dy="2.4">_</tspan><tspan dy="-2.4">5</tspan></text><text class="lab" transform="translate(1267.3 865) rotate(-90)" font-size="23.0" text-anchor="end">GLCM<tspan dy="2.4">_</tspan><tspan dy="-2.4">Var</tspan><tspan dy="2.4">_</tspan><tspan dy="-2.4">5</tspan></text><text class="lab" transform="translate(1290.1 865) rotate(-90)" font-size="23.0" text-anchor="end">GLCM<tspan dy="2.4">_</tspan><tspan dy="-2.4">Var</tspan><tspan dy="2.4">_</tspan><tspan dy="-2.4">8</tspan></text><text class="lab" transform="translate(1312.9 865) rotate(-90)" font-size="23.0" text-anchor="end">GLCM<tspan dy="2.4">_</tspan><tspan dy="-2.4">S</tspan><tspan dy="2.4">_</tspan><tspan dy="-2.4">M</tspan><tspan dy="2.4">_</tspan><tspan dy="-2.4">7</tspan></text><text class="lab" transform="translate(1335.7 865) rotate(-90)" font-size="23.0" text-anchor="end">GLCM<tspan dy="2.4">_</tspan><tspan dy="-2.4">Ent</tspan><tspan dy="2.4">_</tspan><tspan dy="-2.4">3</tspan></text><text class="lab" transform="translate(1358.5 865) rotate(-90)" font-size="23.0" text-anchor="end">GLCM<tspan dy="2.4">_</tspan><tspan dy="-2.4">Var</tspan><tspan dy="2.4">_</tspan><tspan dy="-2.4">3</tspan></text><text class="lab" transform="translate(1381.3 865) rotate(-90)" font-size="23.0" text-anchor="end">GLCM<tspan dy="2.4">_</tspan><tspan dy="-2.4">Con</tspan><tspan dy="2.4">_</tspan><tspan dy="-2.4">6</tspan></text><text class="lab" transform="translate(1404.1 865) rotate(-90)" font-size="23.0" text-anchor="end">GLCM<tspan dy="2.4">_</tspan><tspan dy="-2.4">S</tspan><tspan dy="2.4">_</tspan><tspan dy="-2.4">M</tspan><tspan dy="2.4">_</tspan><tspan dy="-2.4">2</tspan></text><text class="lab" transform="translate(1426.9 865) rotate(-90)" font-size="23.0" text-anchor="end">Mean<tspan dy="2.4">_</tspan><tspan dy="-2.4">Blue</tspan></text><text class="lab" transform="translate(1449.7 865) rotate(-90)" font-size="23.0" text-anchor="end">Mean<tspan dy="2.4">_</tspan><tspan dy="-2.4">DEM</tspan></text><text class="lab" transform="translate(1472.5 865) rotate(-90)" font-size="23.0" text-anchor="end">GLCM<tspan dy="2.4">_</tspan><tspan dy="-2.4">Ent</tspan><tspan dy="2.4">_</tspan><tspan dy="-2.4">6</tspan></text><text class="lab" transform="translate(1495.3 865) rotate(-90)" font-size="23.0" text-anchor="end">GLCM<tspan dy="2.4">_</tspan><tspan dy="-2.4">Con</tspan><tspan dy="2.4">_</tspan><tspan dy="-2.4">8</tspan></text><text class="lab" transform="translate(1518.1 865) rotate(-90)" font-size="23.0" text-anchor="end">GLCM<tspan dy="2.4">_</tspan><tspan dy="-2.4">Dis</tspan><tspan dy="2.4">_</tspan><tspan dy="-2.4">7</tspan></text><text class="lab" transform="translate(1540.9 865) rotate(-90)" font-size="23.0" text-anchor="end">GLCM<tspan dy="2.4">_</tspan><tspan dy="-2.4">S</tspan><tspan dy="2.4">_</tspan><tspan dy="-2.4">M</tspan><tspan dy="2.4">_</tspan><tspan dy="-2.4">3</tspan></text><text class="lab" transform="translate(1563.7 865) rotate(-90)" font-size="23.0" text-anchor="end">GLCM<tspan dy="2.4">_</tspan><tspan dy="-2.4">Hom</tspan><tspan dy="2.4">_</tspan><tspan dy="-2.4">4</tspan></text><text class="lab" transform="translate(1586.5 865) rotate(-90)" font-size="23.0" text-anchor="end">GLCM<tspan dy="2.4">_</tspan><tspan dy="-2.4">Ent</tspan><tspan dy="2.4">_</tspan><tspan dy="-2.4">4</tspan></text><text class="lab" transform="translate(1609.3 865) rotate(-90)" font-size="23.0" text-anchor="end">Mean<tspan dy="2.4">_</tspan><tspan dy="-2.4">SWI</tspan></text><text class="lab" transform="translate(1632.1 865) rotate(-90)" font-size="23.0" text-anchor="end">GLCM<tspan dy="2.4">_</tspan><tspan dy="-2.4">Mean1</tspan></text><text class="lab" transform="translate(1654.9 865) rotate(-90)" font-size="23.0" text-anchor="end">Mean<tspan dy="2.4">_</tspan><tspan dy="-2.4">RVI</tspan></text><text class="lab" transform="translate(1677.7 865) rotate(-90)" font-size="23.0" text-anchor="end">GLCM<tspan dy="2.4">_</tspan><tspan dy="-2.4">Mean3</tspan></text><text class="lab" transform="translate(1700.5 865) rotate(-90)" font-size="23.0" text-anchor="end">TWI</text><text class="lab" transform="translate(1723.3 865) rotate(-90)" font-size="23.0" text-anchor="end">Mean<tspan dy="2.4">_</tspan><tspan dy="-2.4">GNDVI</tspan></text><text class="lab" transform="translate(1746.1 865) rotate(-90)" font-size="23.0" text-anchor="end">Mean<tspan dy="2.4">_</tspan><tspan dy="-2.4">Red</tspan></text><text class="lab" transform="translate(1768.9 865) rotate(-90)" font-size="23.0" text-anchor="end">GLCM<tspan dy="2.4">_</tspan><tspan dy="-2.4">Mean4</tspan></text><text class="lab" transform="translate(1791.7 865) rotate(-90)" font-size="23.0" text-anchor="end">Mean<tspan dy="2.4">_</tspan><tspan dy="-2.4">NIR</tspan></text><text class="lab" transform="translate(1814.5 865) rotate(-90)" font-size="23.0" text-anchor="end">Mean<tspan dy="2.4">_</tspan><tspan dy="-2.4">NDVI</tspan></text><text class="lab" transform="translate(1837.3 865) rotate(-90)" font-size="23.0" text-anchor="end">GLCM<tspan dy="2.4">_</tspan><tspan dy="-2.4">Mean2</tspan></text><text class="lab" transform="translate(1860.1 865) rotate(-90)" font-size="23.0" text-anchor="end">Mean<tspan dy="2.4">_</tspan><tspan dy="-2.4">Green</tspan></text></g>
<g><rect x="178.1" y="1929.6" width="24" height="200.4" fill="#00a2ff" stroke="#000" stroke-width="2.0"/><rect x="208.79" y="1928.3" width="24" height="201.7" fill="#00a2ff" stroke="#000" stroke-width="2.0"/><rect x="239.48" y="1924.6" width="24" height="205.4" fill="#00a2ff" stroke="#000" stroke-width="2.0"/><rect x="270.17" y="1917.7" width="24" height="212.3" fill="#00a2ff" stroke="#000" stroke-width="2.0"/><rect x="300.86" y="1917.7" width="24" height="212.3" fill="#00a2ff" stroke="#000" stroke-width="2.0"/><rect x="331.55" y="1912.1" width="24" height="217.9" fill="#00a2ff" stroke="#000" stroke-width="2.0"/><rect x="362.24" y="1911" width="24" height="219" fill="#00a2ff" stroke="#000" stroke-width="2.0"/><rect x="392.93" y="1909.9" width="24" height="220.1" fill="#00a2ff" stroke="#000" stroke-width="2.0"/><rect x="423.62" y="1908.8" width="24" height="221.2" fill="#00a2ff" stroke="#000" stroke-width="2.0"/><rect x="454.31" y="1907.3" width="24" height="222.7" fill="#00a2ff" stroke="#000" stroke-width="2.0"/><rect x="485" y="1907.3" width="24" height="222.7" fill="#00a2ff" stroke="#000" stroke-width="2.0"/><rect x="515.69" y="1899.4" width="24" height="230.6" fill="#00a2ff" stroke="#000" stroke-width="2.0"/><rect x="546.38" y="1898.3" width="24" height="231.7" fill="#00a2ff" stroke="#000" stroke-width="2.0"/><rect x="577.07" y="1889.7" width="24" height="240.3" fill="#00a2ff" stroke="#000" stroke-width="2.0"/><rect x="607.76" y="1883.2" width="24" height="246.8" fill="#00a2ff" stroke="#000" stroke-width="2.0"/><rect x="638.45" y="1877.3" width="24" height="252.7" fill="#00a2ff" stroke="#000" stroke-width="2.0"/><rect x="669.14" y="1869.3" width="24" height="260.7" fill="#00a2ff" stroke="#000" stroke-width="2.0"/><rect x="699.83" y="1863.2" width="24" height="266.8" fill="#00a2ff" stroke="#000" stroke-width="2.0"/><rect x="730.52" y="1858.5" width="24" height="271.5" fill="#00a2ff" stroke="#000" stroke-width="2.0"/><rect x="761.21" y="1853.9" width="24" height="276.1" fill="#00a2ff" stroke="#000" stroke-width="2.0"/><rect x="791.9" y="1851.7" width="24" height="278.3" fill="#00a2ff" stroke="#000" stroke-width="2.0"/><rect x="822.59" y="1844.8" width="24" height="285.2" fill="#00a2ff" stroke="#000" stroke-width="2.0"/><rect x="853.28" y="1840.9" width="24" height="289.1" fill="#00a2ff" stroke="#000" stroke-width="2.0"/><rect x="883.97" y="1834.1" width="24" height="295.9" fill="#00a2ff" stroke="#000" stroke-width="2.0"/><rect x="914.66" y="1817.6" width="24" height="312.4" fill="#00a2ff" stroke="#000" stroke-width="2.0"/><rect x="945.35" y="1802.4" width="24" height="327.6" fill="#00a2ff" stroke="#000" stroke-width="2.0"/><rect x="976.04" y="1763.2" width="24" height="366.8" fill="#00a2ff" stroke="#000" stroke-width="2.0"/><rect x="1006.73" y="1760.6" width="24" height="369.4" fill="#00a2ff" stroke="#000" stroke-width="2.0"/><rect x="1037.42" y="1754.6" width="24" height="375.4" fill="#00a2ff" stroke="#000" stroke-width="2.0"/><rect x="1068.11" y="1752.4" width="24" height="377.6" fill="#00a2ff" stroke="#000" stroke-width="2.0"/><rect x="1098.8" y="1746.5" width="24" height="383.5" fill="#00a2ff" stroke="#000" stroke-width="2.0"/><rect x="1129.49" y="1744.4" width="24" height="385.6" fill="#00a2ff" stroke="#000" stroke-width="2.0"/><rect x="1160.18" y="1736.1" width="24" height="393.9" fill="#00a2ff" stroke="#000" stroke-width="2.0"/><rect x="1190.87" y="1730.1" width="24" height="399.9" fill="#00a2ff" stroke="#000" stroke-width="2.0"/><rect x="1221.56" y="1725.2" width="24" height="404.8" fill="#00a2ff" stroke="#000" stroke-width="2.0"/><rect x="1252.25" y="1719.6" width="24" height="410.4" fill="#00a2ff" stroke="#000" stroke-width="2.0"/><rect x="1282.94" y="1698.5" width="24" height="431.5" fill="#00a2ff" stroke="#000" stroke-width="2.0"/><rect x="1313.63" y="1676.2" width="24" height="453.8" fill="#00a2ff" stroke="#000" stroke-width="2.0"/><rect x="1344.32" y="1670.4" width="24" height="459.6" fill="#00a2ff" stroke="#000" stroke-width="2.0"/><rect x="1375.01" y="1656.7" width="24" height="473.3" fill="#00a2ff" stroke="#000" stroke-width="2.0"/><rect x="1405.7" y="1650.9" width="24" height="479.1" fill="#00a2ff" stroke="#000" stroke-width="2.0"/><rect x="1436.39" y="1613.6" width="24" height="516.4" fill="#00a2ff" stroke="#000" stroke-width="2.0"/><rect x="1467.08" y="1590.2" width="24" height="539.8" fill="#00a2ff" stroke="#000" stroke-width="2.0"/><rect x="1497.77" y="1574" width="24" height="556" fill="#ff0000" stroke="#000" stroke-width="2.0"/><rect x="1528.46" y="1564.7" width="24" height="565.3" fill="#ff0000" stroke="#000" stroke-width="2.0"/><rect x="1559.15" y="1542.6" width="24" height="587.4" fill="#008000" stroke="#000" stroke-width="2.0"/><rect x="1589.84" y="1523.7" width="24" height="606.3" fill="#008000" stroke="#000" stroke-width="2.0"/><rect x="1620.53" y="1477" width="24" height="653" fill="#ff8000" stroke="#000" stroke-width="2.0"/><rect x="1651.22" y="1471.1" width="24" height="658.9" fill="#008000" stroke="#000" stroke-width="2.0"/><rect x="1681.91" y="1469.8" width="24" height="660.2" fill="#ff8000" stroke="#000" stroke-width="2.0"/><rect x="1712.6" y="1457.1" width="24" height="672.9" fill="#008000" stroke="#000" stroke-width="2.0"/><rect x="1743.29" y="1437" width="24" height="693" fill="#008000" stroke="#000" stroke-width="2.0"/><rect x="1773.98" y="1364.9" width="24" height="765.1" fill="#008000" stroke="#000" stroke-width="2.0"/><rect x="1804.67" y="1321.5" width="24" height="808.5" fill="#008000" stroke="#000" stroke-width="2.0"/><rect x="1835.36" y="1285.4" width="24" height="844.6" fill="#008000" stroke="#000" stroke-width="2.0"/></g>
<path d="M190.1 2130V2110M220.79 2130V2110M251.48 2130V2110M282.17 2130V2110M312.86 2130V2110M343.55 2130V2110M374.24 2130V2110M404.93 2130V2110M435.62 2130V2110M466.31 2130V2110M497 2130V2110M527.69 2130V2110M558.38 2130V2110M589.07 2130V2110M619.76 2130V2110M650.45 2130V2110M681.14 2130V2110M711.83 2130V2110M742.52 2130V2110M773.21 2130V2110M803.9 2130V2110M834.59 2130V2110M865.28 2130V2110M895.97 2130V2110M926.66 2130V2110M957.35 2130V2110M988.04 2130V2110M1018.73 2130V2110M1049.42 2130V2110M1080.11 2130V2110M1110.8 2130V2110M1141.49 2130V2110M1172.18 2130V2110M1202.87 2130V2110M1233.56 2130V2110M1264.25 2130V2110M1294.94 2130V2110M1325.63 2130V2110M1356.32 2130V2110M1387.01 2130V2110M1417.7 2130V2110M1448.39 2130V2110M1479.08 2130V2110M1509.77 2130V2110M1540.46 2130V2110M1571.15 2130V2110M1601.84 2130V2110M1632.53 2130V2110M1663.22 2130V2110M1693.91 2130V2110M1724.6 2130V2110M1755.29 2130V2110M1785.98 2130V2110M1816.67 2130V2110M1847.36 2130V2110" stroke="#000" stroke-width="3.4" fill="none"/>
<path d="M175.5 2130V1127.3H1863.3V2130" stroke="#000" stroke-width="3.5" fill="none" stroke-linecap="square"/>
<path d="M155 2130H1865.05" stroke="#000" stroke-width="3.5" fill="none"/>
<path d="M155 1907H175.5M155 1684H175.5M155 1461H175.5M155 1238H175.5M164.4 2018.5H175.5M164.4 1795.5H175.5M164.4 1572.5H175.5M164.4 1349.5H175.5M164.4 1126.5H175.5" stroke="#000" stroke-width="3.5" fill="none"/>
<text x="140.2" y="2141.2" font-size="42" text-anchor="end">0</text>
<text x="140.2" y="1918.2" font-size="42" text-anchor="end">5</text>
<text x="140.2" y="1695.2" font-size="42" text-anchor="end">10</text>
<text x="140.2" y="1472.2" font-size="42" text-anchor="end">15</text>
<text x="140.2" y="1249.2" font-size="42" text-anchor="end">20</text>
<text x="227.5" y="1229.5" font-size="70">(b)</text>
<text transform="translate(78.1 1627.6) rotate(-90)" font-size="52.4" text-anchor="middle">Importance</text>
<text x="1019.2" y="2397.3" font-size="52.6" text-anchor="middle">Variable names</text>
<g><text class="lab" transform="translate(199.4 2150) rotate(-90)" font-size="27.7" text-anchor="end">GLCM<tspan dy="2.2">_</tspan><tspan dy="-2.2">Mean2</tspan></text><text class="lab" transform="translate(230.09 2150) rotate(-90)" font-size="27.7" text-anchor="end">GLCM<tspan dy="2.2">_</tspan><tspan dy="-2.2">Hom</tspan><tspan dy="2.2">_</tspan><tspan dy="-2.2">6</tspan></text><text class="lab" transform="translate(260.78 2150) rotate(-90)" font-size="27.7" text-anchor="end">GLCM<tspan dy="2.2">_</tspan><tspan dy="-2.2">Cor</tspan><tspan dy="2.2">_</tspan><tspan dy="-2.2">3</tspan></text><text class="lab" transform="translate(291.47 2150) rotate(-90)" font-size="27.7" text-anchor="end">GLCM<tspan dy="2.2">_</tspan><tspan dy="-2.2">Cor</tspan><tspan dy="2.2">_</tspan><tspan dy="-2.2">6</tspan></text><text class="lab" transform="translate(322.16 2150) rotate(-90)" font-size="27.7" text-anchor="end">GLCM<tspan dy="2.2">_</tspan><tspan dy="-2.2">Ang</tspan><tspan dy="2.2">_</tspan><tspan dy="-2.2">6</tspan></text><text class="lab" transform="translate(352.85 2150) rotate(-90)" font-size="27.7" text-anchor="end">GLCM<tspan dy="2.2">_</tspan><tspan dy="-2.2">Mean8</tspan></text><text class="lab" transform="translate(383.54 2150) rotate(-90)" font-size="27.7" text-anchor="end">GLCM<tspan dy="2.2">_</tspan><tspan dy="-2.2">Ent</tspan><tspan dy="2.2">_</tspan><tspan dy="-2.2">2</tspan></text><text class="lab" transform="translate(414.23 2150) rotate(-90)" font-size="27.7" text-anchor="end">GLCM<tspan dy="2.2">_</tspan><tspan dy="-2.2">Cor</tspan><tspan dy="2.2">_</tspan><tspan dy="-2.2">2</tspan></text><text class="lab" transform="translate(444.92 2150) rotate(-90)" font-size="27.7" text-anchor="end">GLCM<tspan dy="2.2">_</tspan><tspan dy="-2.2">Con</tspan><tspan dy="2.2">_</tspan><tspan dy="-2.2">4</tspan></text><text class="lab" transform="translate(475.61 2150) rotate(-90)" font-size="27.7" text-anchor="end">GLCM<tspan dy="2.2">_</tspan><tspan dy="-2.2">Con</tspan><tspan dy="2.2">_</tspan><tspan dy="-2.2">1</tspan></text><text class="lab" transform="translate(506.3 2150) rotate(-90)" font-size="27.7" text-anchor="end">GLCM<tspan dy="2.2">_</tspan><tspan dy="-2.2">Ent</tspan><tspan dy="2.2">_</tspan><tspan dy="-2.2">4</tspan></text><text class="lab" transform="translate(536.99 2150) rotate(-90)" font-size="27.7" text-anchor="end">GLCM<tspan dy="2.2">_</tspan><tspan dy="-2.2">Ang</tspan><tspan dy="2.2">_</tspan><tspan dy="-2.2">4</tspan></text><text class="lab" transform="translate(567.68 2150) rotate(-90)" font-size="27.7" text-anchor="end">GLCM<tspan dy="2.2">_</tspan><tspan dy="-2.2">Con</tspan><tspan dy="2.2">_</tspan><tspan dy="-2.2">2</tspan></text><text class="lab" transform="translate(598.37 2150) rotate(-90)" font-size="27.7" text-anchor="end">GLCM<tspan dy="2.2">_</tspan><tspan dy="-2.2">Ent</tspan><tspan dy="2.2">_</tspan><tspan dy="-2.2">6</tspan></text><text class="lab" transform="translate(629.06 2150) rotate(-90)" font-size="27.7" text-anchor="end">GLCM<tspan dy="2.2">_</tspan><tspan dy="-2.2">Mean6</tspan></text><text class="lab" transform="translate(659.75 2150) rotate(-90)" font-size="27.7" text-anchor="end">GLCM<tspan dy="2.2">_</tspan><tspan dy="-2.2">Cor</tspan><tspan dy="2.2">_</tspan><tspan dy="-2.2">1</tspan></text><text class="lab" transform="translate(690.44 2150) rotate(-90)" font-size="27.7" text-anchor="end">GLCM<tspan dy="2.2">_</tspan><tspan dy="-2.2">Ang</tspan><tspan dy="2.2">_</tspan><tspan dy="-2.2">8</tspan></text><text class="lab" transform="translate(721.13 2150) rotate(-90)" font-size="27.7" text-anchor="end">GLCM<tspan dy="2.2">_</tspan><tspan dy="-2.2">Dis</tspan><tspan dy="2.2">_</tspan><tspan dy="-2.2">3</tspan></text><text class="lab" transform="translate(751.82 2150) rotate(-90)" font-size="27.7" text-anchor="end">GLCM<tspan dy="2.2">_</tspan><tspan dy="-2.2">Cor</tspan><tspan dy="2.2">_</tspan><tspan dy="-2.2">4</tspan></text><text class="lab" transform="translate(782.51 2150) rotate(-90)" font-size="27.7" text-anchor="end">GLCM<tspan dy="2.2">_</tspan><tspan dy="-2.2">Con</tspan><tspan dy="2.2">_</tspan><tspan dy="-2.2">8</tspan></text><text class="lab" transform="translate(813.2 2150) rotate(-90)" font-size="27.7" text-anchor="end">GLCM<tspan dy="2.2">_</tspan><tspan dy="-2.2">Con</tspan><tspan dy="2.2">_</tspan><tspan dy="-2.2">3</tspan></text><text class="lab" transform="translate(843.89 2150) rotate(-90)" font-size="27.7" text-anchor="end">GLCM<tspan dy="2.2">_</tspan><tspan dy="-2.2">Mean</tspan><tspan dy="2.2">_</tspan></text><text class="lab" transform="translate(874.58 2150) rotate(-90)" font-size="27.7" text-anchor="end">GLCM<tspan dy="2.2">_</tspan><tspan dy="-2.2">Dis</tspan><tspan dy="2.2">_</tspan><tspan dy="-2.2">8</tspan></text><text class="lab" transform="translate(905.27 2150) rotate(-90)" font-size="27.7" text-anchor="end">GLCM<tspan dy="2.2">_</tspan><tspan dy="-2.2">Ang</tspan><tspan dy="2.2">_</tspan><tspan dy="-2.2">9</tspan></text><text class="lab" transform="translate(935.96 2150) rotate(-90)" font-size="27.7" text-anchor="end">GLCM<tspan dy="2.2">_</tspan><tspan dy="-2.2">Ent</tspan><tspan dy="2.2">_</tspan><tspan dy="-2.2">7</tspan></text><text class="lab" transform="translate(966.65 2150) rotate(-90)" font-size="27.7" text-anchor="end">GLCM<tspan dy="2.2">_</tspan><tspan dy="-2.2">StdDe</tspan></text><text class="lab" transform="translate(997.34 2150) rotate(-90)" font-size="27.7" text-anchor="end">GLCM<tspan dy="2.2">_</tspan><tspan dy="-2.2">Hom</tspan><tspan dy="2.2">_</tspan><tspan dy="-2.2">7</tspan></text><text class="lab" transform="translate(1028.03 2150) rotate(-90)" font-size="27.7" text-anchor="end">GLCM<tspan dy="2.2">_</tspan><tspan dy="-2.2">Ang</tspan><tspan dy="2.2">_</tspan><tspan dy="-2.2">3</tspan></text><text class="lab" transform="translate(1058.72 2150) rotate(-90)" font-size="27.7" text-anchor="end">GLCM<tspan dy="2.2">_</tspan><tspan dy="-2.2">Ang</tspan><tspan dy="2.2">_</tspan><tspan dy="-2.2">7</tspan></text><text class="lab" transform="translate(1089.41 2150) rotate(-90)" font-size="27.7" text-anchor="end">GLCM<tspan dy="2.2">_</tspan><tspan dy="-2.2">Hom</tspan><tspan dy="2.2">_</tspan><tspan dy="-2.2">8</tspan></text><text class="lab" transform="translate(1120.1 2150) rotate(-90)" font-size="27.7" text-anchor="end">GLCM<tspan dy="2.2">_</tspan><tspan dy="-2.2">Hom</tspan><tspan dy="2.2">_</tspan><tspan dy="-2.2">1</tspan></text><text class="lab" transform="translate(1150.79 2150) rotate(-90)" font-size="27.7" text-anchor="end">GLCM<tspan dy="2.2">_</tspan><tspan dy="-2.2">Ent</tspan><tspan dy="2.2">_</tspan><tspan dy="-2.2">1</tspan></text><text class="lab" transform="translate(1181.48 2150) rotate(-90)" font-size="27.7" text-anchor="end">GLCM<tspan dy="2.2">_</tspan><tspan dy="-2.2">Ent</tspan><tspan dy="2.2">_</tspan><tspan dy="-2.2">8</tspan></text><text class="lab" transform="translate(1212.17 2150) rotate(-90)" font-size="27.7" text-anchor="end">GLCM<tspan dy="2.2">_</tspan><tspan dy="-2.2">Ent</tspan><tspan dy="2.2">_</tspan><tspan dy="-2.2">5</tspan></text><text class="lab" transform="translate(1242.86 2150) rotate(-90)" font-size="27.7" text-anchor="end">GLCM<tspan dy="2.2">_</tspan><tspan dy="-2.2">Corre</tspan></text><text class="lab" transform="translate(1273.55 2150) rotate(-90)" font-size="27.7" text-anchor="end">GLCM<tspan dy="2.2">_</tspan><tspan dy="-2.2">An</tspan><tspan dy="2.2">_</tspan><tspan dy="-2.2">10</tspan></text><text class="lab" transform="translate(1304.24 2150) rotate(-90)" font-size="27.7" text-anchor="end">GLCM<tspan dy="2.2">_</tspan><tspan dy="-2.2">Hom</tspan><tspan dy="2.2">_</tspan><tspan dy="-2.2">5</tspan></text><text class="lab" transform="translate(1334.93 2150) rotate(-90)" font-size="27.7" text-anchor="end">GLCM<tspan dy="2.2">_</tspan><tspan dy="-2.2">Ang</tspan><tspan dy="2.2">_</tspan><tspan dy="-2.2">2</tspan></text><text class="lab" transform="translate(1365.62 2150) rotate(-90)" font-size="27.7" text-anchor="end">GLCM<tspan dy="2.2">_</tspan><tspan dy="-2.2">Entro</tspan></text><text class="lab" transform="translate(1396.31 2150) rotate(-90)" font-size="27.7" text-anchor="end">GLCM<tspan dy="2.2">_</tspan><tspan dy="-2.2">Homog</tspan></text><text class="lab" transform="translate(1427 2150) rotate(-90)" font-size="27.7" text-anchor="end">GLCM<tspan dy="2.2">_</tspan><tspan dy="-2.2">Hom</tspan><tspan dy="2.2">_</tspan><tspan dy="-2.2">3</tspan></text><text class="lab" transform="translate(1457.69 2150) rotate(-90)" font-size="27.7" text-anchor="end">GLCM<tspan dy="2.2">_</tspan><tspan dy="-2.2">Ang</tspan><tspan dy="2.2">_</tspan><tspan dy="-2.2">5</tspan></text><text class="lab" transform="translate(1488.38 2150) rotate(-90)" font-size="27.7" text-anchor="end">GLCM<tspan dy="2.2">_</tspan><tspan dy="-2.2">Ent</tspan><tspan dy="2.2">_</tspan><tspan dy="-2.2">3</tspan></text><text class="lab" transform="translate(1519.07 2150) rotate(-90)" font-size="27.7" text-anchor="end">Max<tspan dy="2.2">_</tspan><tspan dy="-2.2">diff</tspan></text><text class="lab" transform="translate(1549.76 2150) rotate(-90)" font-size="27.7" text-anchor="end">Compactness</text><text class="lab" transform="translate(1580.45 2150) rotate(-90)" font-size="27.7" text-anchor="end">Mean<tspan dy="2.2">_</tspan><tspan dy="-2.2">SWI</tspan></text><text class="lab" transform="translate(1611.14 2150) rotate(-90)" font-size="27.7" text-anchor="end">Mean<tspan dy="2.2">_</tspan><tspan dy="-2.2">GNDVI</tspan></text><text class="lab" transform="translate(1641.83 2150) rotate(-90)" font-size="27.7" text-anchor="end">Mean<tspan dy="2.2">_</tspan><tspan dy="-2.2">DEM</tspan></text><text class="lab" transform="translate(1672.52 2150) rotate(-90)" font-size="27.7" text-anchor="end">Mean<tspan dy="2.2">_</tspan><tspan dy="-2.2">NIR</tspan></text><text class="lab" transform="translate(1703.21 2150) rotate(-90)" font-size="27.7" text-anchor="end">TWI</text><text class="lab" transform="translate(1733.9 2150) rotate(-90)" font-size="27.7" text-anchor="end">Mean<tspan dy="2.2">_</tspan><tspan dy="-2.2">RVI</tspan></text><text class="lab" transform="translate(1764.59 2150) rotate(-90)" font-size="27.7" text-anchor="end">Mean<tspan dy="2.2">_</tspan><tspan dy="-2.2">NDVI</tspan></text><text class="lab" transform="translate(1795.28 2150) rotate(-90)" font-size="27.7" text-anchor="end">Mean<tspan dy="2.2">_</tspan><tspan dy="-2.2">Blue</tspan></text><text class="lab" transform="translate(1825.97 2150) rotate(-90)" font-size="27.7" text-anchor="end">Mean<tspan dy="2.2">_</tspan><tspan dy="-2.2">Red</tspan></text><text class="lab" transform="translate(1856.66 2150) rotate(-90)" font-size="27.7" text-anchor="end">Mean<tspan dy="2.2">_</tspan><tspan dy="-2.2">Green</tspan></text></g>
</g></svg></body></html>
